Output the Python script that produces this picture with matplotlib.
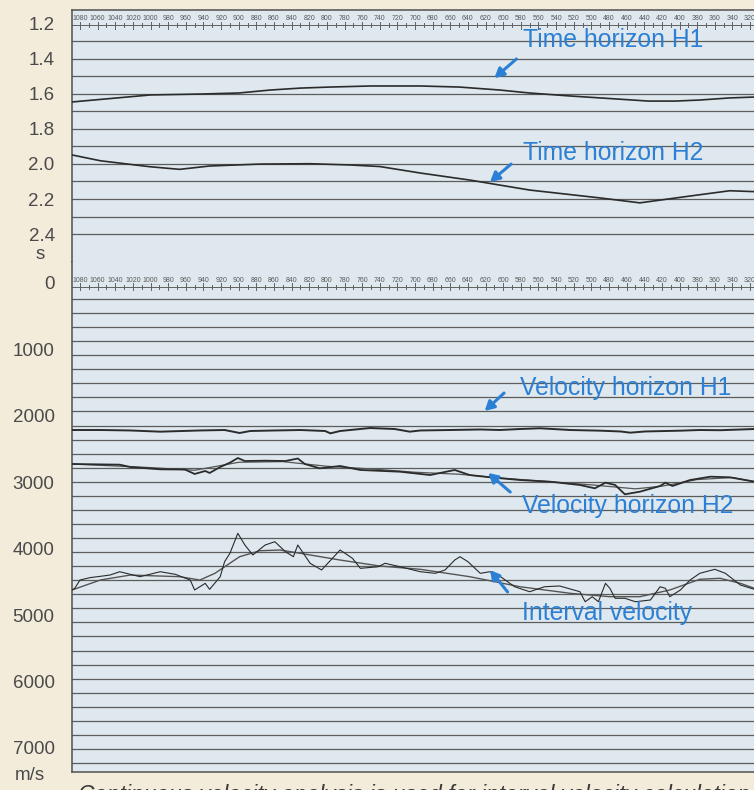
import numpy as np
import matplotlib.pyplot as plt

plt.rcParams['font.family'] = ['Liberation Sans', 'DejaVu Sans']

# --- time horizons (two-way time, s) along CDP ---
th1_cdp = [1089, 1000, 944, 900, 864, 830, 796, 750, 694, 650, 604, 570, 524, 490, 435, 405, 377, 343, 315]
th1_t = [1.647, 1.607, 1.602, 1.596, 1.579, 1.568, 1.562, 1.556, 1.556, 1.562, 1.579, 1.596, 1.613,
         1.624, 1.642, 1.642, 1.636, 1.624, 1.619]

th2_cdp = [1089, 1057, 1001, 967, 933, 876, 819, 774, 740, 694, 638, 570, 490, 445, 388, 343, 315]
th2_t = [1.949, 1.982, 2.016, 2.031, 2.012, 2.001, 1.999, 2.006, 2.015, 2.052, 2.092, 2.149, 2.194,
         2.222, 2.183, 2.153, 2.158]

# --- velocity horizons (m/s) ---
vh1_cdp = [1089, 1057, 1023, 989, 944, 916, 899, 887, 859, 830, 802, 796, 785, 751, 723, 706, 694,
           660, 626, 604, 581, 558, 524, 490, 467, 456, 439, 399, 377, 354, 315]
vh1_v = [2214, 2214, 2221, 2239, 2221, 2214, 2259, 2229, 2221, 2214, 2229, 2264, 2229, 2184, 2199,
         2239, 2221, 2214, 2206, 2214, 2199, 2188, 2214, 2224, 2236, 2254, 2236, 2224, 2214, 2217, 2199]

vh2_cdp = [1089, 1035, 1023, 989, 961, 950, 938, 933, 921, 910, 901, 893, 870, 847, 833, 825, 808,
           785, 762, 717, 683, 655, 638, 615, 581, 547, 513, 496, 484, 473, 462, 445, 422, 416, 408,
           388, 365, 343, 315]
vh2_v = [2726, 2736, 2771, 2806, 2809, 2876, 2831, 2861, 2771, 2706, 2636, 2681, 2676, 2681, 2643,
         2726, 2791, 2756, 2816, 2842, 2892, 2816, 2892, 2926, 2967, 2992, 3042, 3092, 3007, 3042,
         3182, 3143, 3057, 3007, 3057, 2967, 2917, 2926, 2992]

vh2s_cdp = [1089, 1000, 950, 900, 850, 800, 750, 700, 650, 600, 550, 500, 450, 420, 380, 340, 315]
vh2s_v = [2726, 2780, 2820, 2700, 2690, 2760, 2800, 2850, 2880, 2940, 2990, 3040, 3100, 3060, 2960,
          2930, 2990]

# --- interval velocity: raw and smoothed ---
iv_cdp = [1089, 1086, 1080, 1069, 1046, 1035, 1012, 989, 972, 955, 950, 938, 933, 921, 916, 910,
          901, 893, 884, 870, 859, 847, 838, 833, 819, 806, 785, 771, 762, 742, 734, 717, 694, 677,
          666, 655, 649, 640, 626, 615, 604, 587, 570, 553, 536, 513, 507, 499, 492, 484, 479, 473,
          462, 450, 433, 422, 416, 411, 399, 388, 377, 360, 348, 331, 315]
iv_v = [4623, 4598, 4473, 4438, 4398, 4348, 4423, 4348, 4387, 4473, 4623, 4523, 4613, 4423, 4197,
        4071, 3770, 3946, 4096, 3946, 3896, 4047, 4122, 3946, 4221, 4322, 4021, 4146, 4297, 4273,
        4221, 4273, 4348, 4372, 4322, 4172, 4122, 4197, 4372, 4348, 4413, 4574, 4649, 4574, 4563,
        4649, 4800, 4724, 4800, 4523, 4598, 4748, 4748, 4800, 4774, 4574, 4598, 4724, 4623, 4473,
        4372, 4312, 4372, 4548, 4613]

ivs_cdp = [1089, 1057, 1023, 967, 944, 927, 899, 876, 853, 830, 785, 740, 694, 638, 581, 524, 479,
           445, 411, 377, 354, 331, 315]
ivs_v = [4623, 4473, 4398, 4423, 4473, 4372, 4122, 4032, 4021, 4071, 4172, 4262, 4312, 4423, 4574,
         4673, 4724, 4724, 4623, 4462, 4447, 4523, 4598]

time_ticks = [1.2, 1.4, 1.6, 1.8, 2.0, 2.2, 2.4]
vel_ticks = [0, 1000, 2000, 3000, 4000, 5000, 6000, 7000]
cdp_labels = np.arange(1100, 299, -20)

page = '#f3ecdb'
paper = '#dee8ee'
ink = '#2b2b2b'
rule = '#5c5c5c'
blue = '#2b7fd4'

fig = plt.figure(figsize=(7.54, 7.90), dpi=100, facecolor=page)
W, H = 754, 790
left, right = 72, 769
ax_t = fig.add_axes([left / W, 1 - 262 / H, (right - left) / W, (262 - 10) / H])
ax_v = fig.add_axes([left / W, 1 - 772 / H, (right - left) / W, (772 - 262) / H], sharex=ax_t)

ax_t.set_xlim(1089.1, 298.5)
ax_t.set_ylim(2.559, 1.123)
ax_v.set_ylim(7364, -316)

for ax in (ax_t, ax_v):
    ax.set_facecolor(paper)
    for s in ax.spines.values():
        s.set_color('#505050')
        s.set_linewidth(1.1)
    ax.spines['right'].set_visible(False)
    ax.tick_params(axis='x', bottom=False, labelbottom=False)
    ax.tick_params(axis='y', length=0, pad=12.5, labelsize=13.5, labelcolor='#4a4a4a')
ax_t.spines['bottom'].set_visible(False)
ax_v.spines['top'].set_visible(False)

ax_t.set_yticks(time_ticks, [f'{t:.1f}' for t in time_ticks])
ax_v.set_yticks(vel_ticks, [str(v) for v in vel_ticks])

# printout grid lines
for t in np.arange(1.3, 2.45, 0.1):
    ax_t.axhline(t, color=rule, lw=0.9, zorder=1)
for v in 240 + 211.8 * np.arange(34):
    ax_v.axhline(v, color=rule, lw=0.9, zorder=1)


def ruler(ax, y0, px):
    # CDP ruler drawn across the top of each panel; px = data units per pixel
    ax.axhline(y0, color='#606060', lw=0.7, zorder=2)
    for c in np.arange(1100, 299, -10):
        h = 3.5 if c % 20 == 0 else 1.6
        ax.plot([c, c], [y0 - h * px, y0 + h * px], color='#606060', lw=0.7, zorder=2)
    for c in cdp_labels:
        ax.text(c, y0 - 6.5 * px, str(c), fontsize=5.0, color='#5a5a5a', ha='center', va='center',
                clip_on=True, zorder=2)


ruler(ax_t, 1.2085, 1 / 175.5)
ruler(ax_v, 60, 15.06)

# horizons
ax_t.plot(th1_cdp, th1_t, color=ink, lw=1.2, zorder=3)
ax_t.plot(th2_cdp, th2_t, color=ink, lw=1.2, zorder=3)
ax_v.plot(vh1_cdp, vh1_v, color=ink, lw=1.4, zorder=3)
ax_v.plot(vh2s_cdp, vh2s_v, color='#555555', lw=0.9, zorder=3)
ax_v.plot(vh2_cdp, vh2_v, color=ink, lw=1.3, zorder=3)
ax_v.plot(ivs_cdp, ivs_v, color='#555555', lw=1.0, zorder=3)
ax_v.plot(iv_cdp, iv_v, color=ink, lw=0.8, zorder=3)

# unit labels
ax_t.text(-0.046, 2.519, 's', transform=ax_t.get_yaxis_transform(), fontsize=13.5,
          color='#4a4a4a', ha='center', va='center')
ax_v.text(-0.060, 7420, 'm/s', transform=ax_v.get_yaxis_transform(), fontsize=13.5,
          color='#4a4a4a', ha='center', va='center', clip_on=False)

# blue annotations
notes = [
    (ax_t, 'Time horizon H1', (577.5, 1.294), (610, 1.511), (585, 1.402)),
    (ax_t, 'Time horizon H2', (577.5, 1.938), (615, 2.103), (591, 2.001)),
    (ax_v, 'Velocity horizon H1', (581, 1581), (621, 1928), (599, 1657)),
    (ax_v, 'Velocity horizon H2', (579, 3358), (617, 2861), (592, 3148)),
    (ax_v, 'Interval velocity', (579, 4970), (615, 4322), (595, 4653)),
]
for ax, label, pos, tip, tail in notes:
    ax.text(pos[0], pos[1], label, color=blue, fontsize=17.8, ha='left', va='center', zorder=5)
    ax.annotate('', xy=tip, xytext=tail,
                arrowprops=dict(arrowstyle='-|>,head_length=0.55,head_width=0.3', color=blue,
                                lw=2.2, shrinkA=0, shrinkB=0), zorder=5)

# caption below the figure (runs off the page edge)
fig.text(78 / W, 1 - 784 / H,
         'Continuous velocity analysis is used for interval velocity calculation.',
         fontsize=16.4, style='italic', color='#3a3a3a', ha='left', va='top')

fig.savefig('out.png', dpi=100, facecolor=page)
